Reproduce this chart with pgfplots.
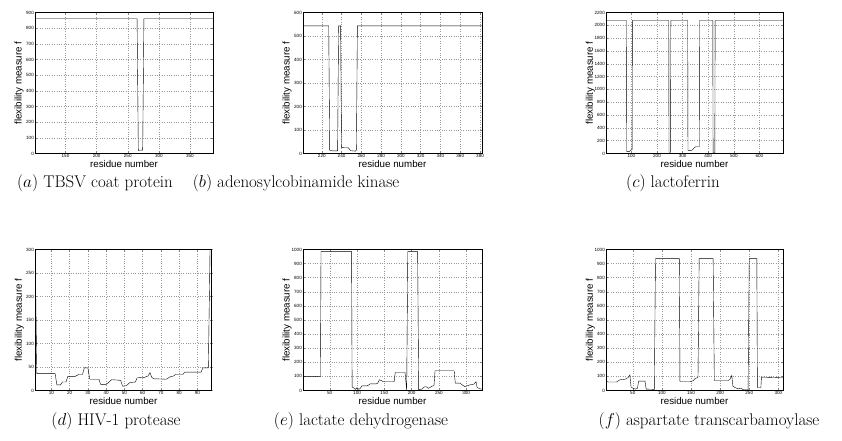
\documentclass[border=0pt]{standalone}
\usepackage{fontspec}
\usepackage{pgfplots}
\pgfplotsset{compat=1.18}
\newfontfamily\hv{Liberation Sans}
\pgfplotsset{
 fa/.style={scale only axis, height=141bp, anchor=south west,
  axis line style={line width=1bp},
  tick align=inside, major tick length=2bp,
  tick style={line width=0.4bp},
  grid=major, grid style={dotted, black!40, line width=0.45bp},
  tick label style={font=\hv\fontsize{4.6}{5}\selectfont, inner sep=1bp},
  /pgf/number format/assume math mode=true,
  /pgf/number format/1000 sep={},
  scaled ticks=false,
  xlabel={residue number}, ylabel={flexibility measure f},
  label style={font=\hv\fontsize{9.8}{11}\selectfont},
  xlabel style={at={(axis description cs:0.5,0)}, anchor=north, inner sep=0pt, yshift=-7bp},
  ylabel style={at={(axis description cs:-0.062,0.5)}, anchor=south, inner sep=0pt},
  cycle list={{black, line width=1.1bp, mark=none}},
 }
}
\begin{document}
\begin{tikzpicture}
\useasboundingbox (0,0) rectangle (842bp,441bp);
% (a)
\begin{axis}[fa, at={(35bp,287.5bp)}, width=178bp,
  xmin=101, xmax=387, ymin=0, ymax=900,
  xtick={150,200,...,350}, ytick={0,100,...,900}]
\addplot coordinates {(101,860) (265,860) (267,20) (274,22) (276,860) (387,860)};
\end{axis}
% (b)
\begin{axis}[fa, at={(303bp,287.5bp)}, width=179bp,
  xmin=201, xmax=382, ymin=0, ymax=600,
  xtick={220,240,...,380}, ytick={0,100,...,600}]
\addplot coordinates {(201,543) (227,543) (228,13) (231,11) (236,11) (237,543) (239,543) (240,25) (247,24) (249,12) (254,10) (255,15) (256,543) (382,543)};
\end{axis}
% (c)
\begin{axis}[fa, at={(606bp,287.5bp)}, width=177bp,
  xmin=1, xmax=692, ymin=0, ymax=2200,
  xtick={100,200,...,600}, ytick={0,200,...,2200}]
\addplot coordinates {(1,2075) (81,2075) (82,28) (92,30) (97,52) (103,62) (104,2075)
 (246,2075) (247,20) (253,20) (254,2075)
 (320,2075) (321,48) (336,50) (343,78) (350,104) (365,106) (366,2075)
 (418,2075) (419,8) (426,8) (427,2075) (692,2075)};
\end{axis}
% (d)
\begin{axis}[fa, at={(35bp,50.5bp)}, width=177bp,
  xmin=1, xmax=98, ymin=0, ymax=300,
  xtick={10,20,...,90}, ytick={0,50,...,300}]
\addplot coordinates {(1,320) (2,36) (12,36) (13,12) (15,12) (16,18) (18,18) (19,30) (23,30) (25,34) (27,34) (28,48) (30,48) (31,24) (36,24) (37,13) (40,13) (41,16) (43,23) (47,22) (48,21) (49,9) (51,10) (53,17) (56,18) (57,27) (61,28) (63,31) (64,38) (65,28) (66,25) (73,24) (75,29) (77,31) (78,34) (82,34) (83,39) (92,39) (93,48) (96,48) (97,320)};
\end{axis}
% (e)
\begin{axis}[fa, at={(303bp,50.5bp)}, width=179bp,
  xmin=1, xmax=329, ymin=0, ymax=1000,
  xtick={50,100,...,300}, ytick={0,100,...,1000}]
\addplot coordinates {(1,100) (33,100) (34,985) (90,985) (91,25) (94,18) (97,8) (100,20) (103,8) (106,15) (109,33) (118,33) (121,38) (124,47) (135,47) (138,52) (141,76) (145,70) (148,62) (168,62) (170,128) (188,128) (191,2) (193,985) (211,985) (213,5) (219,10) (223,25) (227,27) (231,15) (237,30) (241,35) (243,140) (278,140) (280,52) (289,52) (292,42) (297,28) (301,32) (307,40) (314,45) (318,62) (320,22) (325,12) (329,10)};
\end{axis}
% (f)
\begin{axis}[fa, at={(606bp,50.5bp)}, width=177bp,
  xmin=4, xmax=308, ymin=0, ymax=1000,
  xtick={50,100,...,300}, ytick={0,100,...,1000}]
\addplot coordinates {(4,66) (8,60) (22,60) (28,76) (37,80) (42,92) (45,110) (47,25) (51,15) (54,10) (58,15) (60,66) (71,66) (73,10) (87,8) (89,935) (130,935) (131,62) (148,62) (154,70) (157,85) (162,92) (164,935) (188,935) (190,71) (214,71) (217,80) (220,107) (222,30) (226,20) (231,12) (236,15) (240,5) (248,5) (250,935) (263,935) (264,21) (270,21) (271,95) (308,90)};
\end{axis}
\begin{scope}[every node/.style={anchor=base, inner sep=0pt, font=\fontsize{17}{19}\selectfont}]
\node at (95bp,253bp) {$(a)$ TBSV coat protein};
\node at (296bp,253bp) {$(b)$ adenosylcobinamide kinase};
\node at (673bp,253bp) {$(c)$ lactoferrin};
\node at (116bp,16bp) {$(d)$ HIV-1 protease};
\node at (361bp,16bp) {$(e)$ lactate dehydrogenase};
\node at (709bp,16bp) {$(f)$ aspartate transcarbamoylase};
\end{scope}
\end{tikzpicture}
\end{document}
